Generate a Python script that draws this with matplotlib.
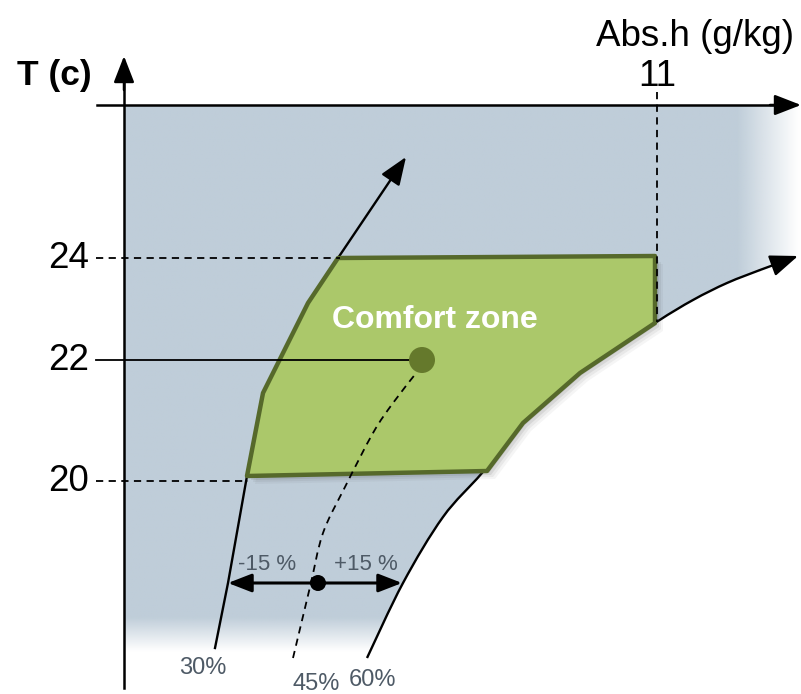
import numpy as np
import matplotlib
matplotlib.use('Agg')
import matplotlib.pyplot as plt
from matplotlib.patches import Polygon, Circle, PathPatch
from matplotlib.path import Path

plt.rcParams['font.family'] = ['Liberation Sans', 'DejaVu Sans']

# ---- diagram data (schematic coordinates, y grows downward) ----
temp_labels = ['24', '22', '20']
temp_y = [258, 360, 481]
temp_line_end = [340, 420, 248]
temp_line_style = ['--', '-', '--']
hum_label = '11'
hum_x = 657
hum_line_end = 322

zone_x = [338, 655, 655, 580, 523, 487, 247, 263, 308]
zone_y = [258, 256, 323, 373, 423, 471, 476, 393, 303]
center_pt = (422, 360)

rh30_x = [215, 228, 247, 263, 308, 338, 406]
rh30_y = [648, 583, 476, 393, 303, 258, 157]
rh45_x = [293, 310, 323, 345, 373, 393, 417]
rh45_y = [658, 587, 533, 487, 433, 403, 372]
rh60_x = [367, 403, 443, 482, 523, 580, 655, 693, 727, 760, 798]
rh60_y = [658, 583, 517, 473, 423, 373, 323, 300, 283, 270, 256]
rh_labels = ['30%', '45%', '60%']
rh_label_x = [203, 316, 372]
rh_label_y = [668, 684, 680]

tol_y = 583
tol_x = [228, 318, 402]
tol_labels = ['-15 %', '+15 %']


def smooth_path(xs, ys):
    """Cubic Bezier path passing through the given points (Catmull-Rom)."""
    p = np.column_stack([xs, ys]).astype(float)
    verts = [p[0]]
    codes = [Path.MOVETO]
    n = len(p)
    for i in range(n - 1):
        p0 = p[i - 1] if i > 0 else p[i]
        p1, p2 = p[i], p[i + 1]
        p3 = p[i + 2] if i + 2 < n else p[i + 1]
        c1 = p1 + (p2 - p0) / 6.0
        c2 = p2 - (p3 - p1) / 6.0
        verts += [c1, c2, p2]
        codes += [Path.CURVE4] * 3
    return Path(verts, codes)


W, H = 801, 694
fig = plt.figure(figsize=(W / 100, H / 100), dpi=100)
ax = fig.add_axes([0, 0, 1, 1])
ax.set_xlim(0, W)
ax.set_ylim(H, 0)
ax.axis('off')

# ---- background gradient region ----
blue = np.array([191, 205, 217]) / 255.0
x0, x1, y0, y1 = 125, 801, 105, 662
nx, ny = 400, 300
xs = np.linspace(x0, x1, nx)
ys = np.linspace(y0, y1, ny)
fade_x = np.clip((800 - xs) / (800 - 738), 0, 1)
fade_y = np.clip((652 - ys) / (652 - 618), 0, 1)
alpha = np.minimum(fade_y[:, None], fade_x[None, :])
img = np.zeros((ny, nx, 4))
img[..., :3] = blue
img[..., 3] = alpha
im = ax.imshow(img, extent=[x0, x1, y1, y0], origin='upper', zorder=1,
               interpolation='bilinear', aspect='auto')
curve60 = smooth_path(rh60_x[::-1], rh60_y[::-1])
clip_verts = [(125, 105), (801, 105), (801, 256)] + \
    list(curve60.vertices) + [(125, 662), (125, 105)]
clip_codes = [Path.MOVETO, Path.LINETO, Path.LINETO, Path.LINETO] + \
    list(curve60.codes[1:]) + [Path.LINETO, Path.CLOSEPOLY]
clip = PathPatch(Path(clip_verts, clip_codes), transform=ax.transData, fc='none', ec='none')
ax.add_patch(clip)
im.set_clip_path(clip)

arrow_kw = dict(arrowstyle='-|>,head_length=0.9,head_width=0.35',
                color='black', shrinkA=0, shrinkB=0)

# ---- relative humidity curves ----
ax.plot(rh30_x[:-1], rh30_y[:-1], color='black', lw=1.7, zorder=3)
ax.annotate('', xy=(rh30_x[-1], rh30_y[-1]), xytext=(rh30_x[-2], rh30_y[-2]),
            arrowprops=dict(lw=1.7, mutation_scale=19, **arrow_kw), zorder=3)
ax.add_patch(PathPatch(smooth_path(rh60_x[:-1], rh60_y[:-1]), fc='none', ec='black',
                       lw=1.7, zorder=3))
ax.annotate('', xy=(rh60_x[-1], rh60_y[-1]), xytext=(rh60_x[-2], rh60_y[-2]),
            arrowprops=dict(lw=1.7, mutation_scale=19, **arrow_kw), zorder=3)
ax.add_patch(PathPatch(smooth_path(rh45_x, rh45_y), fc='none', ec='black',
                       lw=1.3, ls=(0, (4, 3)), zorder=6))

for lab, lx, ly in zip(rh_labels, rh_label_x, rh_label_y):
    ax.text(lx, ly, lab, ha='center', va='center', fontsize=17, color='#4e5a66', zorder=8)

# ---- comfort zone polygon with shadow ----
zone = list(zip(zone_x, zone_y))
for off, a in [(8, 0.05), (6, 0.07), (4, 0.10), (2, 0.12)]:
    ax.add_patch(Polygon([(x + off, y + off) for x, y in zone], closed=True,
                         fc='#404040', ec='none', alpha=a, zorder=4))
ax.add_patch(Polygon(zone, closed=True, fc='#abc86a', ec='#56692b', lw=3.2,
                     joinstyle='round', zorder=5))
ax.text(435, 320, 'Comfort zone', ha='center', va='center', fontsize=23,
        fontweight='bold', color='white', zorder=7)
ax.add_patch(Circle(center_pt, 13, fc='#65792c', ec='none', zorder=7))

# ---- axes ----
ax.plot([124, 124], [688, 80], color='black', lw=1.8, zorder=6)
ax.annotate('', xy=(124, 56), xytext=(124, 90),
            arrowprops=dict(lw=1.8, mutation_scale=18, **arrow_kw), zorder=6)
ax.plot([97, 780], [105, 105], color='black', lw=1.8, zorder=6)
ax.annotate('', xy=(801, 105), xytext=(770, 105),
            arrowprops=dict(lw=1.8, mutation_scale=18, **arrow_kw), zorder=6)

ax.text(54, 75, 'T (c)', ha='center', va='center', fontsize=25.5, fontweight='bold')
ax.text(695, 36, 'Abs.h (g/kg)', ha='center', va='center', fontsize=26.5)
ax.text(hum_x, 76, hum_label, ha='center', va='center', fontsize=26.5)
ax.plot([hum_x, hum_x], [92, hum_line_end], color='black', lw=1.3, ls=(0, (4, 3)), zorder=6)

for lab, ty, xe, ls in zip(temp_labels, temp_y, temp_line_end, temp_line_style):
    ax.text(89, ty, lab, ha='right', va='center', fontsize=26.5)
    ax.plot([96, xe], [ty, ty], color='black', lw=1.3,
            ls=(0, (4, 3)) if ls == '--' else '-', zorder=6)

# ---- tolerance double arrow ----
ax.annotate('', xy=(tol_x[0], tol_y), xytext=(tol_x[2], tol_y),
            arrowprops=dict(arrowstyle='<|-|>,head_length=0.9,head_width=0.35',
                            color='black', lw=2.2, shrinkA=0, shrinkB=0, mutation_scale=16),
            zorder=7)
ax.add_patch(Circle((tol_x[1], tol_y), 8, fc='black', ec='none', zorder=8))
ax.text(267, 565, tol_labels[0], ha='center', va='center', fontsize=16, color='#4e5a66', zorder=8)
ax.text(366, 565, tol_labels[1], ha='center', va='center', fontsize=16, color='#4e5a66', zorder=8)

fig.savefig('out.png', dpi=100)
